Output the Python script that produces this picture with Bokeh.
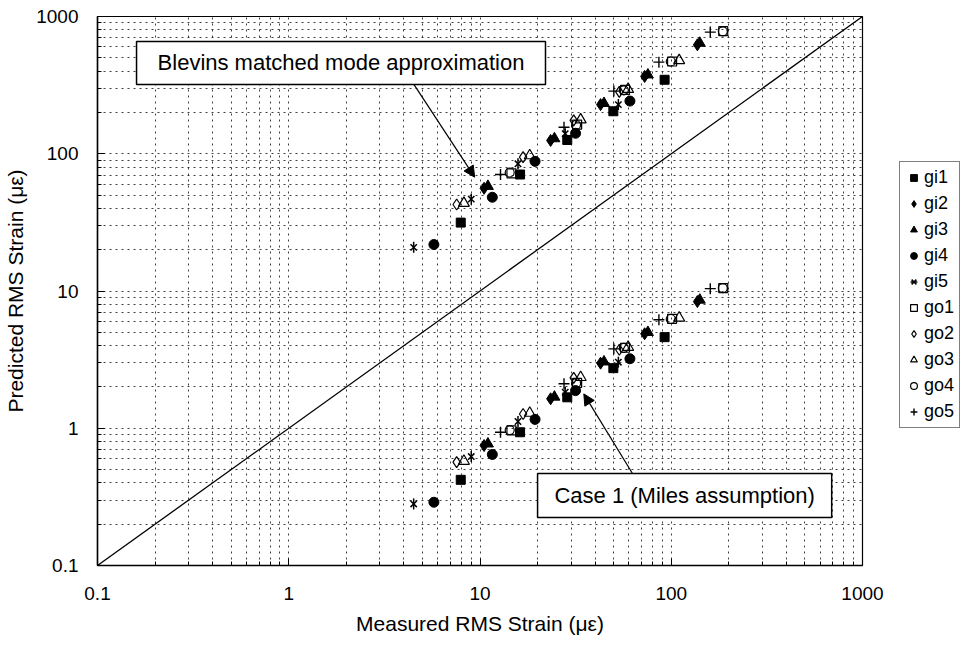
import math
from bokeh.plotting import figure
from bokeh.layouts import row
from bokeh.embed import file_html
from bokeh.resources import INLINE
from bokeh.models import (FixedTicker, CustomJSTickFormatter, Legend, LegendItem,
                          Arrow, NormalHead, BoxAnnotation, Label, ColumnDataSource,
                          Range1d)

# ---------------- data ----------------
axis_limits = [0.1, 1000]
major_ticks = [0.1, 1, 10, 100, 1000]

gi1_x = [7.93, 16.2, 28.6, 49.8, 92.3]
gi1_blevins = [31.5, 70.6, 126, 204, 346]
gi1_miles = [0.421, 0.935, 1.68, 2.74, 4.61]

gi2_x = [10.5, 23.4, 42.7, 72.6, 137]
gi2_blevins = [56, 125, 228, 366, 622]
gi2_miles = [0.748, 1.64, 2.98, 4.88, 8.38]

gi3_x = [11.0, 24.5, 44.5, 75.5, 141]
gi3_blevins = [58, 129, 233, 376, 640]
gi3_miles = [0.77, 1.69, 3.05, 5.0, 8.6]

gi4_x = [5.74, 11.6, 19.4, 31.6, 60.8]
gi4_blevins = [21.8, 48.2, 88, 141, 242]
gi4_miles = [0.289, 0.644, 1.16, 1.88, 3.21]

gi5_x = [4.5, 9.0, 15.8, 27.9, 52.9]
gi5_blevins = [20.8, 46.7, 84.5, 140, 228]
gi5_miles = [0.281, 0.622, 1.12, 1.83, 3.03]

go1_x = [14.6, 32.2, 57.3, 101, 187]
go1_blevins = [72, 163, 292, 470, 782]
go1_miles = [0.965, 2.14, 3.86, 6.27, 10.5]

go2_x = [7.55, 16.8, 30.9, 53.5]
go2_blevins = [42.7, 94.4, 175, 282]
go2_miles = [0.566, 1.27, 2.33, 3.73]

go3_x = [8.24, 18.2, 33.6, 59.5, 110]
go3_blevins = [43.6, 97, 177, 295, 478]
go3_miles = [0.576, 1.29, 2.35, 3.9, 6.37]

go4_x = [14.3, 31.8, 56.5, 99.4, 186]
go4_blevins = [73, 162, 290, 470, 780]
go4_miles = [0.97, 2.13, 3.85, 6.25, 10.5]

go5_x = [12.8, 27.5, 50.1, 86.2, 160]
go5_blevins = [70.6, 156, 286, 465, 770]
go5_miles = [0.935, 2.11, 3.79, 6.17, 10.4]

series_labels = ["gi1", "gi2", "gi3", "gi4", "gi5", "go1", "go2", "go3", "go4", "go5"]

# annotation boxes / arrows (data units)
blevins_text = "Blevins matched mode approximation"
blevins_box = dict(left=0.16, right=22.0, bottom=320, top=658)
blevins_arrow = dict(x_start=4.51, y_start=320, x_end=9.38, y_end=67.5)

miles_text = "Case 1 (Miles assumption)"
miles_box = dict(left=20.0, right=690, bottom=0.224, top=0.468)
miles_arrow = dict(x_start=62.7, y_start=0.468, x_end=34.9, y_end=1.78)

# ---------------- main figure ----------------
FONT = "Liberation Sans"

p = figure(width=885, height=647, x_axis_type="log", y_axis_type="log",
           x_range=(axis_limits[0], axis_limits[1]), y_range=(axis_limits[0], axis_limits[1]),
           output_backend="svg", toolbar_location=None,
           min_border_left=97, min_border_right=23, min_border_top=16, min_border_bottom=82,
           background_fill_color="white", border_fill_color="white")

minor = []
for k in range(-1, 3):
    for m in range(2, 10):
        minor.append(m * 10 ** k)
ticker = FixedTicker(ticks=major_ticks, minor_ticks=minor)
fmt = CustomJSTickFormatter(code="return tick >= 1 ? tick.toFixed(0) : tick.toFixed(1);")

for ax in (p.xaxis[0], p.yaxis[0]):
    ax.ticker = ticker
    ax.formatter = fmt
    ax.major_label_text_font = FONT
    ax.major_label_text_font_size = "19px"
    ax.major_label_text_color = "black"
    ax.axis_label_text_font = FONT
    ax.axis_label_text_font_size = "21px"
    ax.axis_label_text_font_style = "normal"
    ax.axis_label_text_color = "black"
    ax.axis_line_color = "black"
    ax.axis_line_width = 1.5
    ax.major_tick_in = 7
    ax.major_tick_out = 0
    ax.minor_tick_in = 4
    ax.minor_tick_out = 0
    ax.major_tick_line_color = "black"
    ax.minor_tick_line_color = "black"

p.xaxis.axis_label = "Measured RMS Strain (με)"
p.yaxis.axis_label = "Predicted RMS Strain (με)"
p.xaxis.major_label_standoff = 21
p.yaxis.major_label_standoff = 19
p.xaxis.axis_label_standoff = 9
p.yaxis.axis_label_standoff = 6

for g in (p.xgrid[0], p.ygrid[0]):
    g.ticker = ticker
    g.grid_line_color = "black"
    g.grid_line_alpha = 0.75
    g.grid_line_dash = "2 4"
    g.grid_line_width = 1
    g.minor_grid_line_color = "black"
    g.minor_grid_line_alpha = 0.75
    g.minor_grid_line_dash = "2 4"
    g.minor_grid_line_width = 1

p.outline_line_color = "black"
p.outline_line_width = 1.2

# y = x reference line
p.line(axis_limits, axis_limits, line_color="black", line_width=1.3)

# ---------------- scatter series ----------------
xs = [gi1_x, gi2_x, gi3_x, gi4_x, gi5_x, go1_x, go2_x, go3_x, go4_x, go5_x]
yb = [gi1_blevins, gi2_blevins, gi3_blevins, gi4_blevins, gi5_blevins,
      go1_blevins, go2_blevins, go3_blevins, go4_blevins, go5_blevins]
ym = [gi1_miles, gi2_miles, gi3_miles, gi4_miles, gi5_miles,
      go1_miles, go2_miles, go3_miles, go4_miles, go5_miles]

styles = [
    [dict(marker="square", size=9, fill_color="black", line_color="black")],
    [dict(marker="diamond", size=12, fill_color="black", line_color="black")],
    [dict(marker="triangle", size=11, fill_color="black", line_color="black")],
    [dict(marker="circle", size=10, fill_color="black", line_color="black")],
    [dict(marker="x", size=9, fill_color=None, line_color="black", line_width=1.5),
     dict(marker="dash", size=11, angle=math.pi / 2, fill_color=None, line_color="black", line_width=1.5)],
    [dict(marker="square", size=9, fill_color=None, line_color="black", line_width=1.2)],
    [dict(marker="diamond", size=11, fill_color=None, line_color="black", line_width=1.2)],
    [dict(marker="triangle", size=11, fill_color=None, line_color="black", line_width=1.2)],
    [dict(marker="circle", size=9, fill_color=None, line_color="black", line_width=1.2)],
    [dict(marker="cross", size=11, fill_color=None, line_color="black", line_width=1.4)],
]

sources = []
for x, b, m, sts in zip(xs, yb, ym, styles):
    src = ColumnDataSource(dict(x=list(x) + list(x), y=list(b) + list(m)))
    sources.append(src)
    for st in sts:
        p.scatter("x", "y", source=src, **st)

# ---------------- annotations ----------------
for box, text in ((blevins_box, blevins_text), (miles_box, miles_text)):
    p.add_layout(BoxAnnotation(fill_color="white", fill_alpha=1, line_color="black",
                               line_alpha=1, line_width=1.5, **box))
    cx = math.sqrt(box["left"] * box["right"])
    cy = math.sqrt(box["bottom"] * box["top"])
    p.add_layout(Label(x=cx, y=cy, text=text, text_align="center", text_baseline="middle",
                       text_font=FONT, text_font_size="22px", text_color="black"))

for arr in (blevins_arrow, miles_arrow):
    p.add_layout(Arrow(end=NormalHead(size=11, fill_color="black", line_color="black"),
                       line_color="black", line_width=1.2, **arr))

# ---------------- legend panel (separate narrow figure) ----------------
# its ranges are fixed to [0, 1] x [0, 1]: the series' points (x > 1) fall outside,
# so only the legend is visible there
lf = figure(width=76, height=647, output_backend="svg", toolbar_location=None,
            x_range=Range1d(0, 1), y_range=Range1d(0, 1),
            min_border_left=0, min_border_right=0, min_border_top=0, min_border_bottom=0,
            background_fill_color="white", border_fill_color="white")
lf.axis.visible = False
lf.grid.visible = False
lf.outline_line_color = None

items = []
for name, src, sts in zip(series_labels, sources, styles):
    rs = [lf.scatter("x", "y", source=src, **st) for st in sts]
    items.append(LegendItem(label=name, renderers=rs))

legend = Legend(items=items, location=(14, 137), margin=0, padding=5,
                spacing=5, label_height=20, glyph_height=17, glyph_width=17,
                label_standoff=2, label_text_font=FONT, label_text_font_size="18px",
                label_text_color="black",
                border_line_color="black", border_line_width=1.2,
                background_fill_color="white", background_fill_alpha=1)
lf.add_layout(legend, "center")

layout = row(p, lf, spacing=0)
open("out.html", "w").write(file_html(layout, INLINE))
